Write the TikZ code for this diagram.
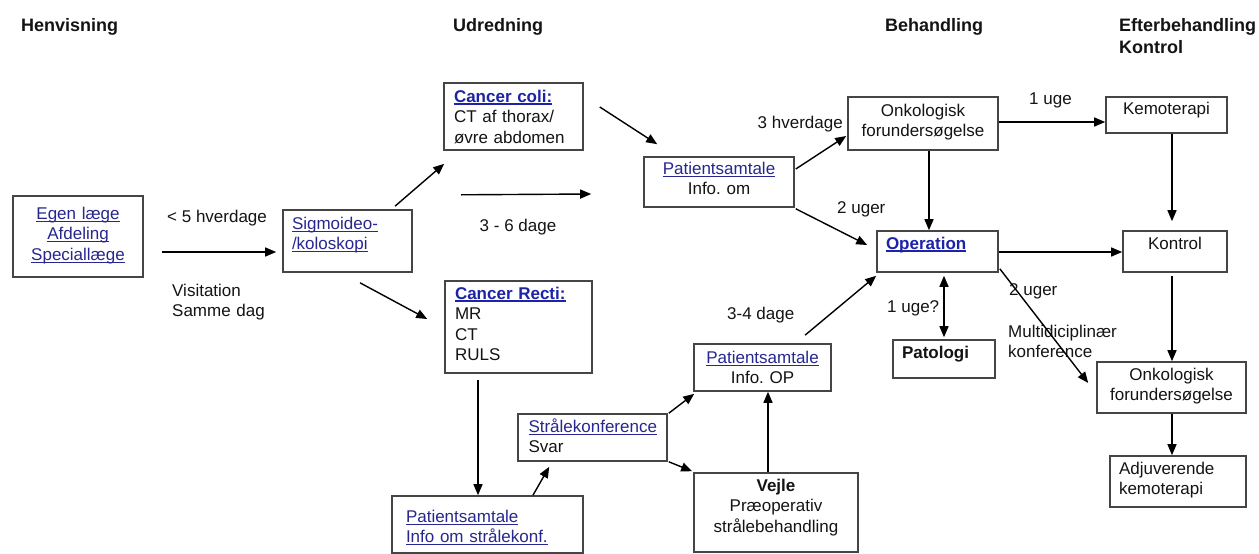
\documentclass[tikz,border=0pt]{standalone}
\usepackage{fontspec}
\setmainfont{Liberation Sans}
\usetikzlibrary{arrows.meta}
\definecolor{ink}{HTML}{141414}
\definecolor{frame}{HTML}{454545}
\definecolor{linkc}{HTML}{27278F}
\definecolor{linkb}{HTML}{1C23A8}
\hyphenpenalty=10000
\frenchspacing
% underlined hyperlink-style text
\newsavebox\lnkbox
\newcommand\lnk[1]{\leavevmode{\color{linkc}\sbox\lnkbox{#1}\rlap{\rule[-2.6pt]{\wd\lnkbox}{1.1pt}}\usebox\lnkbox}}
\newcommand\lnkb[1]{\leavevmode{\color{linkb}\sbox\lnkbox{\bfseries #1}\rlap{\rule[-2.6pt]{\wd\lnkbox}{1.2pt}}\usebox\lnkbox}}
\begin{document}
\begin{tikzpicture}[x=1pt,y=-1pt,
  every node/.style={font=\fontsize{17}{20.5}\selectfont, text=ink},
  box/.style={draw=frame, line width=1.6pt, fill=white, inner ysep=0pt, text height=12pt},
  lbox/.style={box, align=left},
  cbox/.style={box, align=center, inner xsep=4pt},
  lab/.style={inner sep=0pt, anchor=base west},
  head/.style={lab, font=\fontsize{18}{22}\selectfont\bfseries},
  arr/.style={draw=black, line width=1.4pt, -{Triangle[length=11pt,width=9pt]}},
  darr/.style={draw=black, line width=1.4pt, {Triangle[length=11pt,width=9pt]}-{Triangle[length=11pt,width=9pt]}},
  ]
\fill[white] (0,0) rectangle (1259,554);
\useasboundingbox (0,0) rectangle (1259,554);

% column headings
\node[head] (hHen) at (21,31) {Henvisning};
\node[head] (hUdr) at (453,31) {Udredning};
\node[head] (hBeh) at (885,31) {Behandling};
\node[head, text width=140pt, align=left] (hEft) at (1119,31) {Efterbehandling\\Kontrol};

% boxes
\node[cbox, minimum width=130pt, minimum height=81pt, text width=122pt, text depth=47pt] (egen) at (78,236.5)
  {\lnk{Egen læge}\\\lnk{Afdeling}\\\lnk{Speciallæge}};
\node[lbox, minimum width=129pt, minimum height=62pt, text width=111pt, inner xsep=9pt, text depth=36pt] (sig) at (347.5,241)
  {\lnk{Sigmoideo-}\\\lnk{/koloskopi}};
\node[lbox, minimum width=139pt, minimum height=67pt, text width=119pt, inner xsep=10pt, text depth=41pt] (coli) at (513.5,116.5)
  {\lnkb{Cancer coli:}\\CT af thorax/\\øvre abdomen};
\node[lbox, minimum width=147pt, minimum height=92pt, text width=127pt, inner xsep=10pt, text depth=68pt] (recti) at (518.5,327)
  {\lnkb{Cancer Recti:}\\MR\\CT\\RULS};
\node[lbox, minimum width=191pt, minimum height=57pt, text width=163pt, inner xsep=14pt, text depth=17pt] (pat3) at (487.5,524.5)
  {\lnk{Patientsamtale}\\\lnk{Info om strålekonf.}};
\node[lbox, minimum width=149pt, minimum height=47pt, text width=128pt, inner xsep=10.5pt, text depth=23pt] (stral) at (592.5,437.5)
  {\lnk{Strålekonference}\\Svar};
\node[cbox, minimum width=137pt, minimum height=47pt, text width=129pt, text depth=21pt] (patop) at (762.5,367.5)
  {\lnk{Patientsamtale}\\Info. OP};
\node[cbox, minimum width=164pt, minimum height=79pt, text width=156pt, text depth=55pt] (vejle) at (776,512.5)
  {\textbf{Vejle}\\Præoperativ\\strålebehandling};
\node[cbox, minimum width=150pt, minimum height=50pt, text width=142pt, text depth=28pt] (pat1) at (719,182)
  {\lnk{Patientsamtale}\\Info. om};
\node[cbox, minimum width=150pt, minimum height=53pt, text width=142pt, text depth=27pt] (onk1) at (923,123.5)
  {Onkologisk\\forundersøgelse};
\node[lbox, minimum width=121pt, minimum height=41pt, text width=103pt, inner xsep=9pt, text depth=17pt] (oper) at (937.5,251.5)
  {\lnkb{Operation}};
\node[lbox, minimum width=102pt, minimum height=38pt, text width=84pt, inner xsep=9pt, text depth=14pt] (pato) at (944,359)
  {\textbf{Patologi}};
\node[cbox, minimum width=121pt, minimum height=36pt, text width=113pt, text depth=14pt] (kemo) at (1166.5,115)
  {Kemoterapi};
\node[cbox, minimum width=104pt, minimum height=41pt, text width=96pt, text depth=17pt] (kontrol) at (1175,251.5)
  {Kontrol};
\node[cbox, minimum width=149pt, minimum height=51pt, text width=141pt, text depth=27pt] (onk2) at (1171.5,387.5)
  {Onkologisk\\forundersøgelse};
\node[lbox, minimum width=136pt, minimum height=51pt, text width=118pt, inner xsep=9pt, text depth=27pt] (adj) at (1178,481.5)
  {Adjuverende\\kemoterapi};

% free labels
\node[lab] (l5h) at (167,222) {< 5 hverdage};
\node[lab, text width=100pt, align=left] (lvis) at (172,296) {Visitation\\Samme dag};
\node[lab, anchor=base] (l36) at (518,231) {3 - 6 dage};
\node[lab, anchor=base east] (l3h) at (843,128) {3 hverdage};
\node[lab] (l2u) at (837,213) {2 uger};
\node[lab] (l1u) at (1029,104) {1 uge};
\node[lab] (l34) at (727,319) {3-4 dage};
\node[lab] (l1uq) at (887,312) {1 uge?};
\node[lab] (l2u2) at (1009,295) {2 uger};
\node[lab, text width=115pt, align=left] (lmdk) at (1008,337) {Multidiciplinær\\konference};

% connectors
\draw[arr] ([shift={(18,15.5)}]egen.east) -- ([shift={(-6,11)}]sig.west);
\draw[arr] ([shift={(47.5,-3)}]sig.north) -- ([shift={(1,13)}]coli.south west);
\draw[arr] ([shift={(12.5,10)}]sig.south) -- ([shift={(-17,-8)}]recti.west);
\draw[arr] ([shift={(18,44)}]coli.south west) -- ([shift={(-52,12)}]pat1.west);
\draw[arr] ([shift={(16,-9.5)}]coli.east) -- ([shift={(14,-12)}]pat1.north west);
\draw[arr] ([shift={(-40.5,6)}]recti.south) -- ([shift={(-9.5,0)}]pat3.north);
\draw[arr] ([shift={(45.5,0)}]pat3.north) -- ([shift={(32,5)}]stral.south west);
\draw[arr] ([shift={(1,0)}]stral.north east) -- ([shift={(1,2)}]patop.south west);
\draw[arr] ([shift={(1,0)}]stral.south east) -- ([shift={(-1,-1)}]vejle.north west);
\draw[arr] ([shift={(-8,0)}]vejle.north) -- ([shift={(5.5,0)}]patop.south);
\draw[arr] ([shift={(42.5,-8)}]patop.north) -- ([shift={(0,3)}]oper.south west);
\draw[arr] ([shift={(1,-13)}]pat1.east) -- ([shift={(-1,12.5)}]onk1.west);
\draw[arr] ([shift={(1,1)}]pat1.south east) -- ([shift={(-9,-6.5)}]oper.west);
\draw[arr] ([shift={(6,0)}]onk1.south) -- ([shift={(-8.5,0)}]oper.north);
\draw[arr] ([shift={(0,-1.5)}]onk1.east) -- ([shift={(0,7)}]kemo.west);
\draw[arr] ([shift={(5.5,0)}]kemo.south) -- ([shift={(-3,-9)}]kontrol.north);
\draw[arr] ([shift={(0,0.5)}]oper.east) -- ([shift={(0,0.5)}]kontrol.west);
\draw[darr] ([shift={(6.5,3)}]oper.south) -- ([shift={(0,-2)}]pato.north);
\draw[arr] ([shift={(1,-4)}]oper.south east) -- ([shift={(-8,-4.5)}]onk2.west);
\draw[arr] ([shift={(-3,3)}]kontrol.south) -- ([shift={(0.5,0)}]onk2.north);
\draw[arr] ([shift={(0.5,0)}]onk2.south) -- ([shift={(-6,0)}]adj.north);
\end{tikzpicture}
\end{document}
